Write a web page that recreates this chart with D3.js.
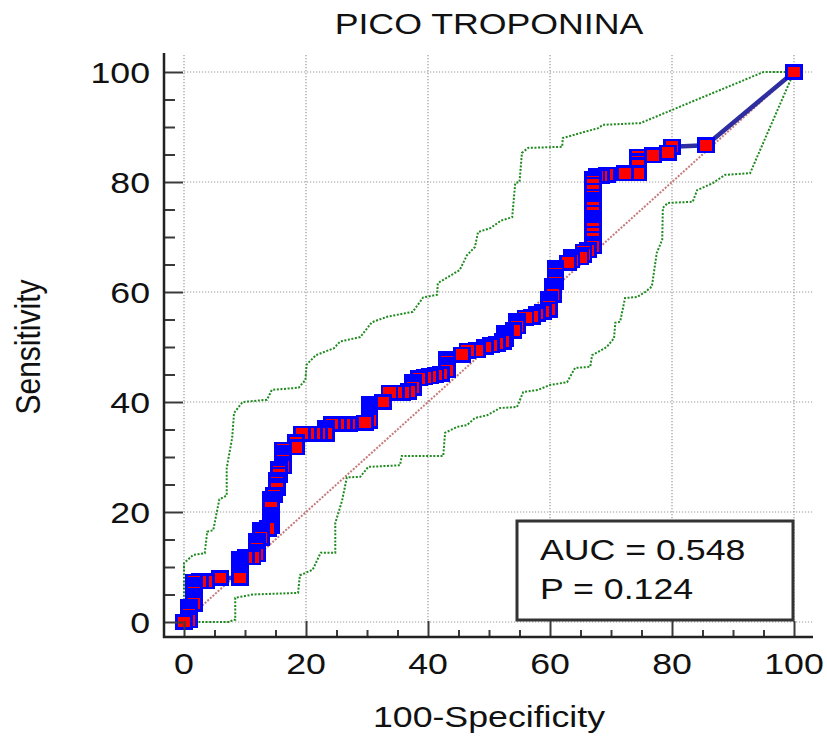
<!DOCTYPE html>
<html>
<head>
<meta charset="utf-8">
<script src="https://cdn.jsdelivr.net/npm/d3@7"></script>
<style>
  html,body{margin:0;padding:0;background:#fff;}
  svg{display:block;}
  text{font-family:"Liberation Sans", Arial, sans-serif;fill:#111;}
</style>
</head>
<body>
<svg id="chart" width="827" height="738"></svg>
<script>
// ---------- DATA ----------
const chartTitle = "PICO TROPONINA";
const xAxisTitle = "100-Specificity";
const yAxisTitle = "Sensitivity";
const majorTicks = [0, 20, 40, 60, 80, 100];
const minorTicks = [5,10,15,25,30,35,45,50,55,65,70,75,85,90,95];
const statLabels = ["AUC = 0.548", "P = 0.124"];

// ROC curve (100-Specificity, Sensitivity)
const rocX = [0,
  0.8,0.8,0.8,0.8,0.8,0.8,
  1.6,1.6,1.6,1.6,1.6,1.6,1.6,1.6,1.6,
  2.6,3.6,5.9,9.2,
  9.2,9.2,9.2,9.2,9.2,9.2,9.2,
  10.2,11.2,
  12,12,12,12,12,12,
  12.6,12.6,12.6,12.6,13.8,
  14.3,14.3,14.3,14.3,14.3,14.3,14.3,14.3,14.3,
  14.8,15.2,15.2,15.2,15.2,15.6,15.6,15.6,
  16.2,16.2,16.2,16.2,16.2,16.2,16.2,
  18.4,18.4,
  19.3,20.3,21.3,22.1,23.3,23.3,23.3,
  24.3,25.2,26.2,27,
  29.7,30.4,30.4,30.4,30.4,30.4,30.4,30.4,
  32.6,33.7,34.8,35.8,36.8,
  37.5,37.5,37.5,
  38.5,39.4,40.3,41.2,42.1,
  43.1,43.1,43.1,43.1,43.1,
  45.6,46.5,48,
  49.3,50.3,51.3,52.3,
  52.6,52.6,52.6,54,
  54.6,54.6,54.6,
  56,57,57.9,58.9,59.8,
  59.8,59.8,59.8,59.8,
  60.5,60.5,60.5,60.5,
  60.9,60.9,60.9,60.9,60.9,60.9,
  63,63.5,63.5,65,65.5,65.5,66.2,
  67,67,67,67,67,67,67,67,67,67,67,67,67,67,67,67,67,67,67,
  67.6,68.4,69.3,
  72.3,74.4,74.4,74.4,74.4,
  76.9,79.3,80,85.6,100];
const rocY = [0,
  0.3,0.8,1.3,1.8,2.3,2.8,
  3.3,3.8,4.3,4.8,5.3,5.8,6.3,6.8,7.3,
  7.4,7.4,8,8,
  8.5,9,9.5,10,10.5,11,11.5,
  11.8,11.8,
  12.3,12.8,13.3,13.8,14.3,14.8,
  15.3,15.8,16.3,16.8,17,
  17.5,18,18.5,19,19.5,20.9,21.4,21.9,22.4,
  23.1,24.3,24.8,25.3,25.8,26.8,27.3,27.8,
  28.3,28.8,29.3,29.8,30.3,30.8,31.3,
  31.8,32.7,
  34.2,34.2,34.2,34.2,34.2,34.7,35.2,
  36,36,36,36,
  36.2,36.6,37.1,37.6,38.1,38.6,39.1,39.6,
  40,41.7,41.7,41.7,41.9,
  42.6,43.1,43.6,
  44.3,44.5,44.7,44.9,45.1,
  45.8,46.3,46.8,47.3,47.8,
  48.6,49.3,49.4,
  50,50.3,50.6,51,
  51.5,52,52.5,53,
  53.8,54.3,54.8,
  55.3,55.5,56,56.4,56.8,
  57.3,57.8,58.3,58.8,
  59.5,60,60.5,61,
  61.8,62.3,62.8,63.3,63.8,64.3,
  65.3,65.8,66.3,66.3,66.8,67.3,67.6,
  68.3,68.8,69.7,70.6,71.5,72,72.5,73,73.5,74.4,75.3,75.8,76.3,76.8,77.3,78.4,79.5,80.1,80.6,
  81.1,81.1,81.3,
  81.6,81.6,83.1,83.8,84.6,
  84.9,85.3,86.4,86.7,100];

// Upper 95% confidence bound
const upperX = [0,0,1.5,3.4,3.8,4.8,5.2,5.8,7,7,7.9,8.2,9.6,13.6,14.4,18.8,19.9,20.1,21.6,24.6,25.6,28.9,30.8,33.3,37.5,39.2,41.5,41.6,45.2,46.4,47.7,48.2,50.2,52,53.8,54.3,55,55.4,56.4,62,62.1,67.9,68.7,74.8,95,100];
const upperY = [0,10.7,12.2,12.5,16.4,16.7,19,22.3,23,28,33.5,38,40,40.4,42.2,42.6,44,46.8,48.5,49.8,51,51.8,54.5,55.5,56.4,59,59.5,61.6,64,66.7,68.2,70.9,71.6,73,73.6,79.8,80,85.3,86.2,86.4,88,89.8,90.4,90.7,100,100];

// Lower 95% confidence bound
const lowerX = [0,7.5,8,8.4,8.4,11.3,18.7,19,21.1,22.4,24.8,24.8,25.9,26.7,28.9,30.2,35.4,35.7,42.5,42.8,44.8,46.4,47.7,49.7,51.8,54.6,55.6,58,60,62.8,64.1,66.6,66.9,69.3,70.5,70.7,71.5,72.3,74.3,75.6,76.7,77.5,78.4,78.5,79.3,83.4,84.1,86.7,88.7,92.8,100];
const lowerY = [0,0,0.4,0.4,4.4,5,5.3,8.5,9.5,12.6,12.6,18,22,26.3,26.4,28.2,28.5,30.2,30.2,34.4,35.5,35.8,37.1,37.6,38.9,39.1,41.8,42.2,43.1,43.6,46.2,46.4,48.5,50,51.6,54.4,54.6,58.9,59.1,60,61,67.1,69.5,75.3,76.2,76.4,78.5,79.8,81.3,81.6,100];

// ---------- DRAWING ----------
const svg = d3.select("#chart");
svg.append("rect").attr("width",827).attr("height",738).attr("fill","#fff");

const x = d3.scaleLinear().domain([0,100]).range([184,794]);
const y = d3.scaleLinear().domain([0,100]).range([622,72]);
const SX = 1.19; // horizontal glyph stretch of the original picture
const FS = 30;

function hText(tx, ty, str, anchor, size){
  return svg.append("text")
    .attr("transform",`translate(${tx},${ty}) scale(${SX},1)`)
    .attr("text-anchor",anchor).attr("font-size",size||FS).text(str);
}

// grid
const grid = svg.append("g").attr("stroke","#9a9a9a").attr("stroke-width",1.2).attr("stroke-dasharray","1.2,1.8");
majorTicks.forEach(v=>{
  grid.append("line").attr("x1",x(v)).attr("x2",x(v)).attr("y1",55).attr("y2",621);
  grid.append("line").attr("x1",184).attr("x2",813).attr("y1",y(v)).attr("y2",y(v));
});

// diagonal reference
svg.append("line").attr("x1",x(0)).attr("y1",y(0)).attr("x2",x(100)).attr("y2",y(100))
  .attr("stroke","#b85a5a").attr("stroke-width",2).attr("stroke-dasharray","2,1.5").attr("opacity",0.8);

// confidence bounds
const line = d3.line().x(d=>x(d[0])).y(d=>y(d[1]));
const upperPts = upperX.map((v,i)=>[v,upperY[i]]);
const lowerPts = lowerX.map((v,i)=>[v,lowerY[i]]);
[upperPts, lowerPts].forEach(p=>{
  svg.append("path").attr("d",line(p)).attr("fill","none")
    .attr("stroke","#1f8a1f").attr("stroke-width",2).attr("stroke-dasharray","2,1.6");
});

// ROC line
const rocPts = rocX.map((v,i)=>[v,rocY[i]]);
svg.append("path").attr("d",line(rocPts)).attr("fill","none")
  .attr("stroke","#2e2ea0").attr("stroke-width",4.5).attr("stroke-linejoin","round");

// markers (drawn from the top-right end down to the origin)
const mw = 15, mh = 13.5;
svg.append("g").attr("shape-rendering","crispEdges")
  .selectAll("rect").data(rocPts.slice().reverse()).join("rect")
  .attr("x",d=>x(d[0])-mw/2).attr("y",d=>y(d[1])-mh/2)
  .attr("width",mw).attr("height",mh)
  .attr("fill","#ff0000").attr("stroke","#0000ff").attr("stroke-width",2.6);

// axes ticks
const yMajor = svg.append("g").attr("transform","translate(164,0)")
  .call(d3.axisLeft(y).tickValues(majorTicks).tickSize(-19).tickFormat(""));
const yMinor = svg.append("g").attr("transform","translate(164,0)")
  .call(d3.axisLeft(y).tickValues(minorTicks).tickSize(-11).tickFormat(""));
const xMajor = svg.append("g").attr("transform","translate(0,637)")
  .call(d3.axisBottom(x).tickValues(majorTicks).tickSize(-16).tickFormat(""));
const xMinor = svg.append("g").attr("transform","translate(0,637)")
  .call(d3.axisBottom(x).tickValues(minorTicks).tickSize(-7).tickFormat(""));
[yMajor,yMinor,xMajor,xMinor].forEach(g=>{
  g.select(".domain").remove();
  g.selectAll(".tick line").attr("stroke","#3a3a3a").attr("stroke-width",2);
});
// axis lines
svg.append("line").attr("x1",164).attr("x2",164).attr("y1",53).attr("y2",638)
  .attr("stroke","#222").attr("stroke-width",2.5);
svg.append("line").attr("x1",163).attr("x2",813).attr("y1",637).attr("y2",637)
  .attr("stroke","#222").attr("stroke-width",2.5);

// tick labels
majorTicks.forEach(v=>{
  hText(150, y(v)+10.7, String(v), "end");
  hText(x(v), 674, String(v), "middle");
});

// titles
hText(489, 34, chartTitle, "middle");
hText(489, 727, xAxisTitle, "middle");
svg.append("text")
  .attr("transform",`translate(40,347) rotate(-90) scale(1,${SX})`)
  .attr("text-anchor","middle").attr("font-size",FS).text(yAxisTitle);

// stats box
svg.append("rect").attr("x",517).attr("y",521).attr("width",276).attr("height",99)
  .attr("fill","#fff").attr("stroke","#333").attr("stroke-width",3);
hText(540, 560, statLabels[0], "start");
hText(540, 599, statLabels[1], "start");
</script>
</body>
</html>
